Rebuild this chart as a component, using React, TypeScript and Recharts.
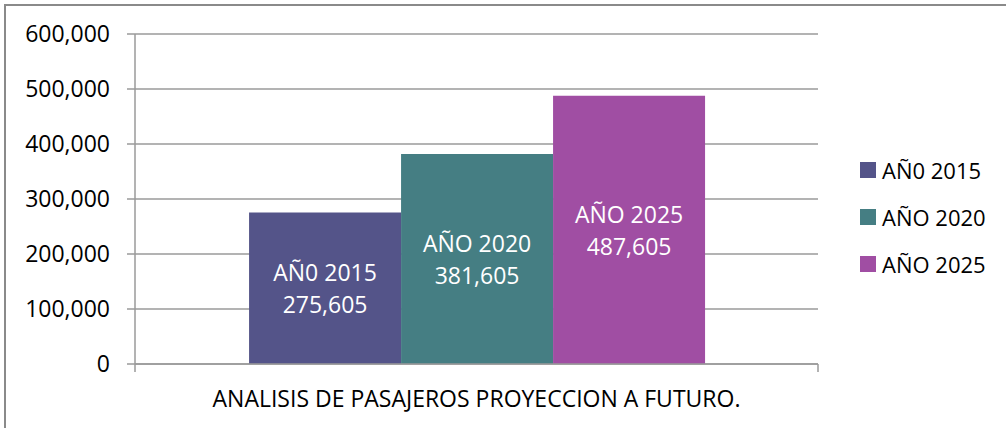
import React from 'react';
import { BarChart, Bar, XAxis, YAxis, CartesianGrid, Legend, LabelList } from 'recharts';

const categories = ['ANALISIS DE PASAJEROS PROYECCION A FUTURO.'];
const seriesKeys = ['y2015', 'y2020', 'y2025'];
const seriesNames = ['AÑ0 2015', 'AÑO 2020', 'AÑO 2025'];
const values2015 = [275605];
const values2020 = [381605];
const values2025 = [487605];
const yTicks = [0, 100000, 200000, 300000, 400000, 500000, 600000];
const colors = ['#545489', '#457E83', '#A04EA3'];

const FONT = "'Open Sans', sans-serif";
const GRID = '#9a9a9a';

const data = categories.map((c, i) => ({
  category: c,
  y2015: values2015[i],
  y2020: values2020[i],
  y2025: values2025[i],
}));

const fmt = (v: number) => v.toLocaleString('en-US');

const XTick = (props: any) => {
  const { x, y, payload, width, visibleTicksCount } = props;
  const band = width / (visibleTicksCount || 1);
  return (
    <g>
      <line x1={x - band / 2} x2={x - band / 2} y1={y} y2={y + 8} stroke={GRID} strokeWidth={1.5} />
      <line x1={x + band / 2} x2={x + band / 2} y1={y} y2={y + 8} stroke={GRID} strokeWidth={1.5} />
      <text x={x} y={y + 34} textAnchor="middle" dominantBaseline="central" fill="#000" fontSize={23} fontFamily={FONT}>
        {payload.value}
      </text>
    </g>
  );
};

const makeLabel = (name: string) => (props: any) => {
  const { x, y, width, height, value } = props;
  const cx = x + width / 2;
  const cy = y + height / 2;
  return (
    <g>
      <text x={cx} y={cy - 16} textAnchor="middle" dominantBaseline="central" fill="#fff" fontSize={23} fontFamily={FONT}>
        {name}
      </text>
      <text x={cx} y={cy + 16} textAnchor="middle" dominantBaseline="central" fill="#fff" fontSize={23} fontFamily={FONT}>
        {fmt(Number(value))}
      </text>
    </g>
  );
};

const LegendContent = () => (
  <div style={{ fontFamily: FONT, fontSize: 22, color: '#000' }}>
    {seriesNames.map((n, i) => (
      <div key={n} style={{ height: 47, display: 'flex', alignItems: 'center', whiteSpace: 'nowrap' }}>
        <span style={{ display: 'inline-block', width: 16, height: 16, background: colors[i], marginRight: 6 }} />
        <span>{n}</span>
      </div>
    ))}
  </div>
);

export default function App() {
  return (
    <div style={{ position: 'absolute', left: 0, top: 0, width: 1006, height: 428, background: '#fff' }}>
      <div
        style={{
          position: 'absolute',
          left: 4,
          top: 4,
          width: 1002,
          height: 424,
          borderTop: '2px solid #8a8a8a',
          borderLeft: '2px solid #8a8a8a',
          boxSizing: 'border-box',
        }}
      />
      <div style={{ position: 'absolute', left: 0, top: 0 }}>
        <BarChart
          width={1006}
          height={428}
          data={data}
          margin={{ top: 34, right: 188, bottom: 0, left: 0 }}
          barCategoryGap="16.7%"
          barGap={0}
        >
          <CartesianGrid horizontal vertical={false} stroke={GRID} strokeWidth={1.5} />
          <XAxis
            dataKey="category"
            height={64}
            tickSize={0}
            tickMargin={0}
            tickLine={false}
            axisLine={{ stroke: GRID, strokeWidth: 1.5 }}
            tick={<XTick />}
            interval={0}
          />
          <YAxis
            width={135}
            domain={[0, 600000]}
            ticks={yTicks}
            interval={0}
            tickFormatter={fmt}
            tickSize={8}
            tickMargin={17}
            tickLine={{ stroke: GRID, strokeWidth: 1.5 }}
            axisLine={{ stroke: GRID, strokeWidth: 1.5 }}
            tick={{ fill: '#000', fontSize: 23, fontFamily: FONT }}
          />
          <Legend
            layout="vertical"
            align="center"
            verticalAlign="middle"
            content={<LegendContent />}
            wrapperStyle={{ left: 860, top: 146, width: 146, right: 'auto', bottom: 'auto' }}
          />
          {seriesKeys.map((k, i) => (
            <Bar key={k} dataKey={k} name={seriesNames[i]} fill={colors[i]} isAnimationActive={false}>
              <LabelList dataKey={k} content={makeLabel(seriesNames[i])} />
            </Bar>
          ))}
        </BarChart>
      </div>
    </div>
  );
}
